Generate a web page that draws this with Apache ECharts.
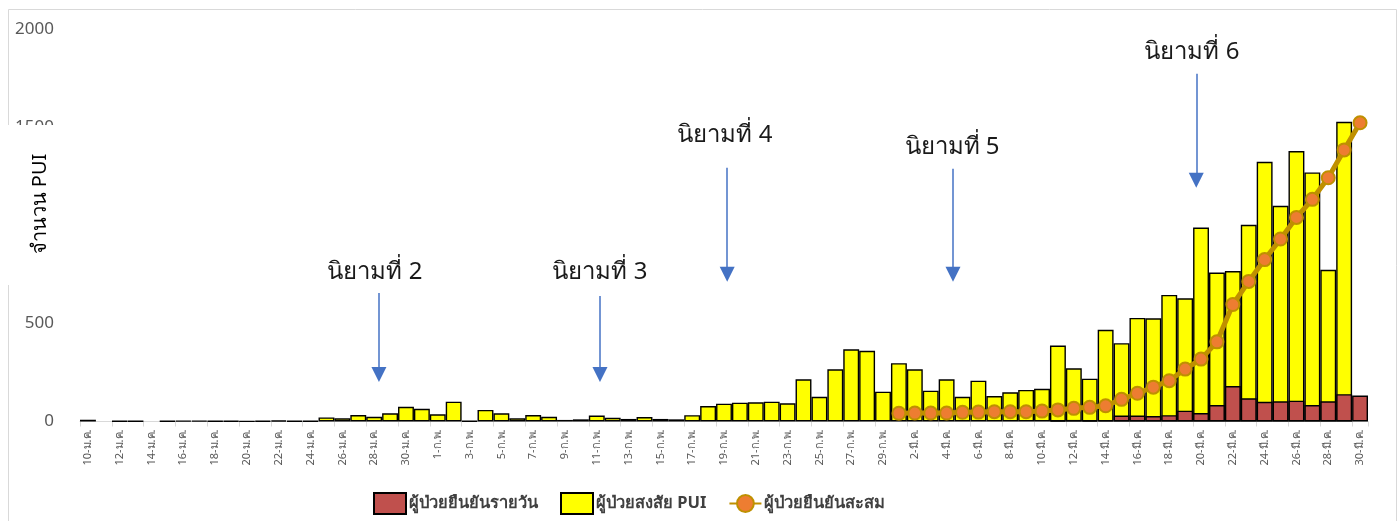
<!DOCTYPE html>
<html>
<head>
<meta charset="utf-8">
<script src="https://cdn.jsdelivr.net/npm/echarts@6/dist/echarts.min.js"></script>
<style>
html,body{margin:0;padding:0;background:#fff;}
#c{width:1399px;height:521px;}
</style>
</head>
<body>
<div id="c"></div>
<script>
const categories = [
 '10-ม.ค.','11-ม.ค.','12-ม.ค.','13-ม.ค.','14-ม.ค.','15-ม.ค.','16-ม.ค.','17-ม.ค.','18-ม.ค.','19-ม.ค.','20-ม.ค.',
 '21-ม.ค.','22-ม.ค.','23-ม.ค.','24-ม.ค.','25-ม.ค.','26-ม.ค.','27-ม.ค.','28-ม.ค.','29-ม.ค.','30-ม.ค.','31-ม.ค.',
 '1-ก.พ.','2-ก.พ.','3-ก.พ.','4-ก.พ.','5-ก.พ.','6-ก.พ.','7-ก.พ.','8-ก.พ.','9-ก.พ.','10-ก.พ.',
 '11-ก.พ.','12-ก.พ.','13-ก.พ.','14-ก.พ.','15-ก.พ.','16-ก.พ.','17-ก.พ.','18-ก.พ.','19-ก.พ.','20-ก.พ.',
 '21-ก.พ.','22-ก.พ.','23-ก.พ.','24-ก.พ.','25-ก.พ.','26-ก.พ.','27-ก.พ.','28-ก.พ.','29-ก.พ.',
 '1-มี.ค.','2-มี.ค.','3-มี.ค.','4-มี.ค.','5-มี.ค.','6-มี.ค.','7-มี.ค.','8-มี.ค.','9-มี.ค.','10-มี.ค.',
 '11-มี.ค.','12-มี.ค.','13-มี.ค.','14-มี.ค.','15-มี.ค.','16-มี.ค.','17-มี.ค.','18-มี.ค.','19-มี.ค.','20-มี.ค.',
 '21-มี.ค.','22-มี.ค.','23-มี.ค.','24-มี.ค.','25-มี.ค.','26-มี.ค.','27-มี.ค.','28-มี.ค.','29-มี.ค.','30-มี.ค.'
];

// ผู้ป่วยสงสัย PUI (yellow bars)
const puiValues = [
 9,'-',2,2,'-',2,4,4,2,3,1,3,5,3,3,
 21,16,33,24,42,75,65,37,101,
 3,
 59,42,16,33,24,8,11,30,19,13,23,13,11,32,
 79,91,96,98,101,93,215,126,266,368,360,152,
 297,266,157,215,126,208,130,149,161,167,387,271,218,467,399,528,526,645,628,
 988,759,767,1002,1323,1099,1378,1269,773,1527,
 '-'
];

// ผู้ป่วยยืนยันรายวัน (red bars)
const dailyConfirmed = [
 '-','-','-','-','-','-','-','-','-','-','-','-','-','-','-','-','-','-','-','-','-','-',
 '-','-','-','-','-','-','-','-','-','-','-','-','-','-','-','-','-','-','-','-','-','-','-','-','-','-','-','-','-',
 '-','-','-','-','-','-','-','-','-','-',
 4,8,5,7,30,30,28,32,55,43,84,181,118,100,103,106,84,103,139,132
];

// ผู้ป่วยยืนยันสะสม (line)
const cumulativeConfirmed = [
 '-','-','-','-','-','-','-','-','-','-','-','-','-','-','-','-','-','-','-','-','-','-',
 '-','-','-','-','-','-','-','-','-','-','-','-','-','-','-','-','-','-','-','-','-','-','-','-','-','-','-','-','-',
 42,43,43,43,47,48,50,50,50,53,59,67,72,80,113,144,175,208,267,318,406,596,714,825,930,1040,1132,1242,1384,1522
];

const yTicks = [0, 500, 1000, 1500, 2000];

// annotations (นิยาม) in data space: x = category index, y = value
const noteLabels = ['นิยามที่ 2','นิยามที่ 3','นิยามที่ 4','นิยามที่ 5','นิยามที่ 6'];
const noteArrowX = [18.3, 32.2, 40.2, 54.4, 69.7];
const noteArrowTop = [655, 640, 1293, 1288, 1772];
const noteArrowEnd = [240, 240, 750, 750, 1229];
const noteTextX = [18.05, 32.2, 40.06, 54.34, 69.43];
const noteTextY = [762, 762, 1461, 1400, 1884];

const FONT = "'Noto Sans', 'Open Sans', sans-serif";

const chart = echarts.init(document.getElementById('c'), null, {renderer: 'canvas'});
chart.setOption({
  animation: false,
  backgroundColor: '#fff',
  textStyle: {fontFamily: FONT},
  grid: {left: 80, right: 31, top: 29, bottom: 99.5, containLabel: false},
  legend: {
    left: 373, top: 492, padding: 0,
    itemWidth: 32, itemHeight: 21, itemGap: 22,
    data: [
      {name: 'ผู้ป่วยยืนยันรายวัน', icon: 'rect'},
      {name: 'ผู้ป่วยสงสัย PUI', icon: 'rect'},
      {name: 'ผู้ป่วยยืนยันสะสม'}
    ],
    textStyle: {fontSize: 16.5, fontWeight: 'bold', color: '#404040', fontFamily: FONT, padding: [0,0,0,-2]}
  },
  xAxis: [{
    type: 'category',
    data: categories,
    boundaryGap: true,
    axisLine: {lineStyle: {color: '#d9d9d9', width: 1}},
    axisTick: {show: true, interval: 1, length: 5, lineStyle: {color: '#d9d9d9'}},
    axisLabel: {interval: 1, rotate: 90, fontSize: 11, color: '#595959', margin: 8}
  }, {
    type: 'value', min: -0.5, max: 80.5, show: false
  }],
  yAxis: {
    type: 'value', min: 0, max: 2000, interval: 500,
    splitLine: {show: false},
    axisLine: {show: false},
    axisTick: {show: false},
    axisLabel: {fontSize: 17, color: '#595959', margin: 26,
      formatter: v => yTicks.indexOf(v) >= 0 ? String(v) : ''}
  },
  series: [
    {
      name: 'ผู้ป่วยสงสัย PUI', type: 'bar', data: puiValues,
      barCategoryGap: '0%', barGap: '-100%',
      itemStyle: {color: '#FFFF00', borderColor: '#000', borderWidth: 1.4}
    },
    {
      name: 'ผู้ป่วยยืนยันรายวัน', type: 'bar', data: dailyConfirmed,
      barCategoryGap: '0%', barGap: '-100%',
      itemStyle: {color: '#C0504D', borderColor: '#000', borderWidth: 1.4}
    },
    {
      name: 'ผู้ป่วยยืนยันสะสม', type: 'line', data: cumulativeConfirmed,
      symbol: 'circle', symbolSize: 13, showAllSymbol: true,
      lineStyle: {color: '#BF9000', width: 5},
      itemStyle: {color: '#ED7D31', borderColor: '#BF9000', borderWidth: 2},
      z: 5
    },
    {
      name: 'notes', type: 'scatter', xAxisIndex: 1, yAxisIndex: 0, data: [],
      silent: true,
      markLine: {
        silent: true, animation: false,
        symbol: ['none', 'triangle'], symbolSize: 15,
        lineStyle: {color: '#4472C4', width: 1.5, type: 'solid'},
        itemStyle: {color: '#4472C4'},
        label: {show: false},
        data: noteArrowX.map((x, i) => [{coord: [x, noteArrowTop[i]]}, {coord: [x, noteArrowEnd[i]]}])
      },
      markPoint: {
        silent: true, animation: false,
        symbol: 'rect', symbolSize: 1,
        itemStyle: {color: 'rgba(0,0,0,0)'},
        label: {show: true, position: 'inside', fontSize: 24, color: '#1a1a1a', fontFamily: FONT,
          formatter: p => p.name},
        data: noteLabels.map((t, i) => ({name: t, coord: [noteTextX[i], noteTextY[i]]}))
      }
    }
  ],
  graphic: [
    {type: 'rect', silent: true, z: -10,
      shape: {x: 8.5, y: 9.5, width: 1388, height: 540},
      style: {fill: 'none', stroke: '#d9d9d9', lineWidth: 1}},
    {type: 'rect', silent: true, z: 100,
      shape: {x: 0, y: 125, width: 72, height: 160},
      style: {fill: '#fff'}},
    {type: 'text', silent: true, z: 101, x: 40, y: 204, rotation: Math.PI / 2,
      style: {text: 'จำนวน PUI', font: "20px " + FONT, fill: '#000', align: 'center', verticalAlign: 'middle'}}
  ]
});
</script>
</body>
</html>
